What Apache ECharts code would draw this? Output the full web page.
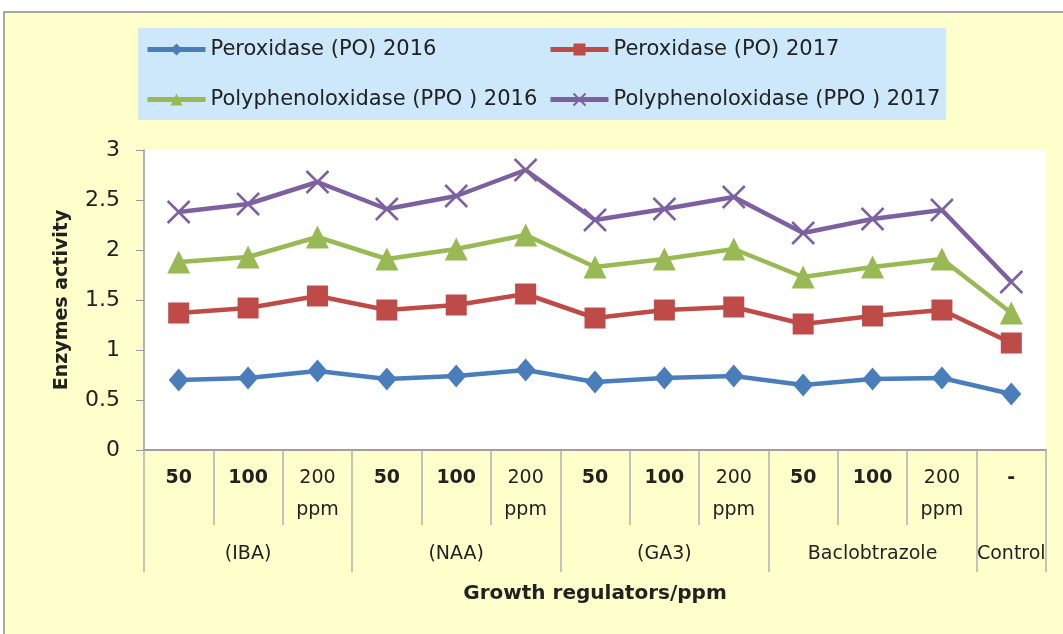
<!DOCTYPE html>
<html>
<head>
<meta charset="utf-8">
<script src="https://cdn.jsdelivr.net/npm/echarts@6/dist/echarts.min.js"></script>
<style>
  html, body { margin: 0; padding: 0; background: #fff; }
  #chart { width: 1063px; height: 634px; }
</style>
</head>
<body>
<div id="chart"></div>
<script>
// data
var doses = ['50', '100', '200\nppm', '50', '100', '200\nppm', '50', '100', '200\nppm', '50', '100', '200\nppm', '-'];
var groups = ['(IBA)', '(NAA)', '(GA3)', 'Baclobtrazole', 'Control'];
var groupSpans = [3, 3, 3, 3, 1];

var po2016  = [0.70, 0.72, 0.79, 0.71, 0.74, 0.80, 0.68, 0.72, 0.74, 0.65, 0.71, 0.72, 0.56];
var po2017  = [1.37, 1.42, 1.54, 1.40, 1.45, 1.56, 1.32, 1.40, 1.43, 1.26, 1.34, 1.40, 1.07];
var ppo2016 = [1.88, 1.93, 2.13, 1.91, 2.01, 2.15, 1.83, 1.91, 2.01, 1.73, 1.83, 1.91, 1.37];
var ppo2017 = [2.38, 2.46, 2.68, 2.41, 2.54, 2.80, 2.30, 2.41, 2.53, 2.17, 2.31, 2.40, 1.68];

var FONT = 'DejaVu Sans';
var TXT = '#222';

// dose labels: plain numbers bold, "200 ppm" normal
var doseData = doses.map(function (d) {
  return { value: d, textStyle: { fontWeight: d.indexOf('ppm') >= 0 ? 'normal' : 'bold' } };
});

// group axis: label on middle category, ticks on group edges
var groupData = [];
var edges = {};
var pos = 0;
groups.forEach(function (g, i) {
  edges[pos] = true;
  for (var k = 0; k < groupSpans[i]; k++) {
    groupData.push(k === Math.floor((groupSpans[i] - 1) / 2) ? g : '');
  }
  pos += groupSpans[i];
});
edges[pos] = true;

var chart = echarts.init(document.getElementById('chart'));

var legendText = { fontSize: 21, color: TXT, fontFamily: FONT };

var option = {
  backgroundColor: 'transparent',
  textStyle: { fontFamily: FONT },
  graphic: [
    { type: 'rect', z: -10, shape: { x: 4, y: 12, width: 1080, height: 640 },
      style: { fill: '#FFFFCC', stroke: '#8c8c8c', lineWidth: 1.5 } },
    { type: 'rect', z: -9, shape: { x: 138, y: 28, width: 808, height: 92 },
      style: { fill: '#CCE8FA' } }
  ],
  legend: [
    { left: 145, top: 39, padding: 0, orient: 'vertical', itemGap: 29, itemWidth: 58, itemHeight: 15,
      lineStyle: { width: 5 },
      data: ['Peroxidase (PO) 2016', 'Polyphenoloxidase (PPO ) 2016'], textStyle: legendText },
    { left: 548, top: 39, padding: 0, orient: 'vertical', itemGap: 29, itemWidth: 58, itemHeight: 15,
      lineStyle: { width: 5 },
      data: ['Peroxidase (PO) 2017', 'Polyphenoloxidase (PPO ) 2017'], textStyle: legendText }
  ],
  grid: { left: 144, right: 17, top: 150, bottom: 184, show: true,
          backgroundColor: '#fff', borderWidth: 0 },
  xAxis: [
    {
      type: 'category', data: doseData, boundaryGap: true, position: 'bottom',
      axisLine: { lineStyle: { color: '#999', width: 1.5 } },
      axisTick: { show: true, length: 75, lineStyle: { color: '#b0b0b0', width: 1.5 } },
      axisLabel: { interval: 0, margin: 12, fontSize: 19, lineHeight: 32, color: TXT, fontFamily: FONT }
    },
    {
      type: 'category', data: groupData, boundaryGap: true, position: 'bottom',
      name: 'Growth regulators/ppm', nameLocation: 'middle', nameGap: 134,
      nameTextStyle: { fontSize: 20, fontWeight: 'bold', color: TXT, fontFamily: FONT },
      axisLine: { lineStyle: { color: '#999', width: 1.5 } },
      axisTick: { show: true, length: 122, interval: function (i) { return !!edges[i]; },
                  lineStyle: { color: '#b0b0b0', width: 1.5 } },
      axisLabel: { interval: 0, margin: 95, fontSize: 19, color: TXT, fontFamily: FONT }
    }
  ],
  yAxis: {
    type: 'value', min: 0, max: 3, interval: 0.5,
    name: 'Enzymes activity', nameLocation: 'middle', nameGap: 72,
    nameTextStyle: { fontSize: 19, fontWeight: 'bold', color: TXT, fontFamily: FONT },
    axisLine: { show: true, lineStyle: { color: '#999', width: 1.5 } },
    axisTick: { show: true, length: 8, lineStyle: { color: '#999' } },
    splitLine: { show: false },
    axisLabel: { margin: 24, fontSize: 22, color: TXT, fontFamily: FONT }
  },
  series: [
    { name: 'Peroxidase (PO) 2016', type: 'line', data: po2016,
      symbol: 'diamond', symbolSize: [20, 23], lineStyle: { width: 4.5, color: '#4A7EBB' },
      itemStyle: { color: '#4A7EBB', borderWidth: 0 } },
    { name: 'Peroxidase (PO) 2017', type: 'line', data: po2017,
      symbol: 'rect', symbolSize: 21, lineStyle: { width: 4.5, color: '#BE4B48' },
      itemStyle: { color: '#BE4B48', borderWidth: 0 } },
    { name: 'Polyphenoloxidase (PPO ) 2016', type: 'line', data: ppo2016,
      symbol: 'triangle', symbolSize: 23, lineStyle: { width: 4.5, color: '#98B954' },
      itemStyle: { color: '#98B954', borderWidth: 0 } },
    { name: 'Polyphenoloxidase (PPO ) 2017', type: 'line', data: ppo2017,
      symbol: 'path://M0,0 L10,10 M10,0 L0,10', symbolSize: 22,
      lineStyle: { width: 4.5, color: '#7D60A0' },
      itemStyle: { color: '#7D60A0', borderColor: '#7D60A0', borderWidth: 2.5 } }
  ]
};

chart.setOption(option);
</script>
</body>
</html>
